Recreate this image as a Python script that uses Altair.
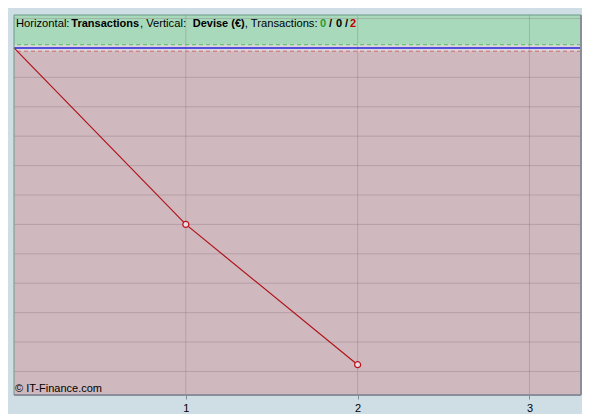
import altair as alt
import pandas as pd

# ---- data ----
trade_x = [0, 1, 2]
trade_y = [0, -6.0, -10.77]
marker_x = [1, 2]
marker_y = [-6.0, -10.77]
x_ticks = [1, 2, 3]
y_grid = [1, 0, -1, -2, -3, -4, -5, -6, -7, -8, -9, -10, -11]
x_dom = [0, 3.3]
y_dom = [-11.8, 1.12]

header_text = ["Horizontal:", "Transactions", ", Vertical:", "Devise (€)",
               ", Transactions:", "0", "/", "0", "/", "2"]
header_px = [2, 57.3, 126, 178.7, 230.8, 306, 315, 322, 331, 336]
header_bold = ["normal", "bold", "normal", "bold", "normal",
               "bold", "bold", "bold", "bold", "bold"]
header_col = ["#000000"] * 5 + ["#2a9a2a", "#000000", "#000000", "#000000", "#c00000"]

W, H = 567, 380
xs = alt.Scale(domain=x_dom, nice=False, zero=False)
ys = alt.Scale(domain=y_dom, nice=False, zero=False)

zones = pd.DataFrame({
    "x": [0, 0, 0], "x2": [3.3, 3.3, 3.3],
    "y": [0.11, -0.11, -11.8], "y2": [1.12, 0.11, -0.11],
    "c": ["#a9d9bb", "#dcd6dc", "#cfb9be"],
})
zone_layer = alt.Chart(zones).mark_rect().encode(
    x=alt.X("x:Q", scale=xs, axis=alt.Axis(values=x_ticks, grid=False, domain=False,
                                            tickColor="#7a8e99", tickSize=4, labelFontSize=11,
                                            labelFont="Liberation Sans", labelColor="#000",
                                            labelPadding=3, title=None, format="d")),
    x2="x2:Q",
    y=alt.Y("y:Q", scale=ys, axis=alt.Axis(orient="right", values=y_grid, labels=False,
                                            grid=False, domain=False, tickColor="#7a8e99",
                                            tickSize=4, offset=2, title=None)),
    y2="y2:Q",
    color=alt.Color("c:N", scale=None),
)

hgrid = alt.Chart(pd.DataFrame({"y": y_grid})).mark_rule(
    color="#7e6870", opacity=0.3, strokeWidth=1).encode(y=alt.Y("y:Q", scale=ys))
vgrid = alt.Chart(pd.DataFrame({"x": x_ticks})).mark_rule(
    color="#7e6870", opacity=0.3, strokeWidth=1).encode(x=alt.X("x:Q", scale=xs))

green_dash = alt.Chart(pd.DataFrame({"y": [0.11]})).mark_rule(
    color="#55c05a", strokeDash=[4, 3], strokeWidth=1).encode(y=alt.Y("y:Q", scale=ys))
red_dash = alt.Chart(pd.DataFrame({"y": [-0.11]})).mark_rule(
    color="#d06868", strokeDash=[4, 3], strokeWidth=1).encode(y=alt.Y("y:Q", scale=ys))
zero_line = alt.Chart(pd.DataFrame({"y": [0]})).mark_rule(
    color="#2a2ae0", strokeWidth=1.5).encode(y=alt.Y("y:Q", scale=ys))

line = alt.Chart(pd.DataFrame({"x": trade_x, "y": trade_y})).mark_line(
    color="#b0141c", strokeWidth=1.2).encode(
    x=alt.X("x:Q", scale=xs), y=alt.Y("y:Q", scale=ys))
pts = alt.Chart(pd.DataFrame({"x": marker_x, "y": marker_y})).mark_point(
    shape="circle", filled=True, fill="#e4e0e6", stroke="#c01018", strokeWidth=1.2,
    size=36, opacity=1).encode(x=alt.X("x:Q", scale=xs), y=alt.Y("y:Q", scale=ys))

# frame: top/left greenish, right/bottom gray shadow
frame_tl = alt.Chart(pd.DataFrame({"x": [0]})).mark_rule(
    color="#6c9a88", strokeWidth=1).encode(x=alt.X("x:Q", scale=xs))
frame_t = alt.Chart(pd.DataFrame({"y": [1.12]})).mark_rule(
    color="#6c9a88", strokeWidth=1).encode(y=alt.Y("y:Q", scale=ys))
frame_r = alt.Chart(pd.DataFrame({"x": [3.3]})).mark_rule(
    color="#8a8e9a", strokeWidth=2).encode(x=alt.X("x:Q", scale=xs))
frame_b = alt.Chart(pd.DataFrame({"y": [-11.8]})).mark_rule(
    color="#8a8e9a", strokeWidth=2).encode(y=alt.Y("y:Q", scale=ys))

hdr = pd.DataFrame({"t": header_text, "px": header_px, "w": header_bold, "c": header_col})


def header_part(weight, size):
    return alt.Chart(hdr[hdr["w"] == weight]).mark_text(
        align="left", baseline="alphabetic", fontSize=size, font="Liberation Sans",
        fontWeight=weight).encode(
        text="t:N", x=alt.X("px:Q", scale=None), y=alt.value(11.5),
        color=alt.Color("c:N", scale=None))


copyright_txt = alt.Chart(pd.DataFrame({"t": ["© IT-Finance.com"]})).mark_text(
    align="left", baseline="alphabetic", fontSize=11, font="Liberation Sans",
    color="#000").encode(text="t:N", x=alt.value(1), y=alt.value(376.5))

chart = alt.layer(zone_layer, hgrid, vgrid, green_dash, red_dash, zero_line, line, pts,
                  frame_tl, frame_t, frame_r, frame_b, header_part("normal", 11.2),
                  header_part("bold", 11), copyright_txt).properties(
    width=W, height=H,
    autosize=alt.AutoSizeParams(type="none"),
    padding={"left": 6, "top": 7, "right": 1, "bottom": 19},
    background="#cfdde4",
).configure_view(stroke=None)

chart.save("out.html", embed_options={"renderer": "svg", "actions": False})
